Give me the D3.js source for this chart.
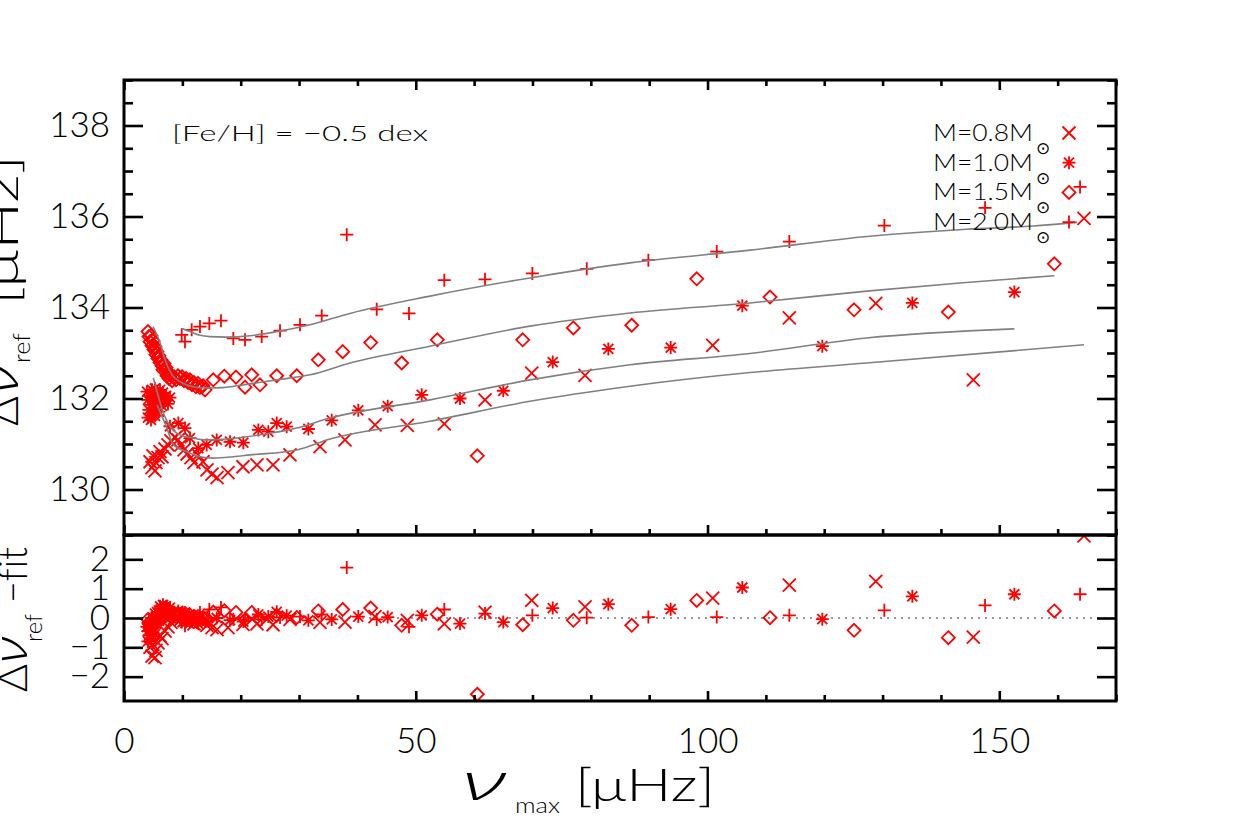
<!DOCTYPE html>
<html>
<head>
<meta charset="utf-8">
<script src="https://cdn.jsdelivr.net/npm/d3@7"></script>
<style>
  body { margin: 0; background: #fff; }
  text { font-family: Lato, "DejaVu Sans", sans-serif; font-weight: 300; fill: #000; font-variant-ligatures: none; }
  .greek { font-family: "Open Sans", "DejaVu Sans", sans-serif; font-weight: 300; font-style: italic; }
</style>
</head>
<body>
<div id="chart"></div>
<script>
"use strict";

// == DATA (nu_max [muHz], delta nu_ref [muHz]) ==
var m08Top = [[4.46,130.61],[4.80,130.48],[4.97,130.74],[5.31,130.41],[5.48,130.59],[5.83,130.70],[6.17,130.83],[6.51,130.72],
  [7.03,130.89],[7.54,130.98],[8.05,131.07],[8.74,131.14],[9.25,131.09],[9.77,130.98],[10.28,130.87],[10.80,130.78],
  [11.48,130.70],[12.00,130.59],[12.68,130.76],[13.54,130.61],[14.22,130.43],[15.08,130.34],[15.94,130.26],[17.82,130.37],
  [20.39,130.50],[22.79,130.54],[25.54,130.54],[28.45,130.76],[33.59,130.94],[37.87,131.09],[43.02,131.42],[48.55,131.41],
  [54.89,131.44],[61.87,131.97],[69.87,132.56],[79.01,132.51],[100.89,133.17],[114.02,133.77],[128.83,134.09],
  [145.55,132.41],[164.52,135.96]];

var m10Top = [[3.94,132.15],[4.11,131.97],[4.28,131.75],[4.46,132.06],[4.63,131.86],[4.80,132.19],[4.97,131.66],[5.14,131.99],
  [5.31,132.22],[5.48,131.82],[5.66,132.08],[5.83,131.93],[6.00,131.71],[6.17,132.19],[6.34,132.02],[6.51,131.84],
  [6.68,132.13],[6.86,131.95],[7.20,132.06],[7.54,131.88],[7.88,132.02],[4.11,131.58],[4.63,131.53],[5.31,131.62],
  [7.88,131.39],[9.31,131.46],[10.45,131.35],[11.31,131.13],[12.73,130.91],[14.17,130.98],[15.89,131.09],[18.17,131.05],
  [20.45,131.03],[23.02,131.31],[24.73,131.27],[26.17,131.46],[27.88,131.38],[31.59,131.33],[35.60,131.52],[40.15,131.74],
  [45.19,131.83],[51.02,132.08],[57.58,132.00],[65.00,132.17],[73.47,132.80],[83.00,133.09],[93.69,133.12],
  [105.96,134.04],[119.67,133.15],[135.10,134.10],[152.58,134.34]];

var m15Top = [[4.11,133.47],[4.28,133.36],[4.46,133.25],[4.63,133.38],[4.80,133.16],[4.97,133.27],[5.14,133.07],[5.31,133.14],
  [5.48,132.96],[5.66,133.03],[5.83,132.88],[6.00,132.94],[6.17,132.79],[6.34,132.85],[6.51,132.72],[6.68,132.63],
  [6.86,132.77],[7.03,132.59],[7.20,132.68],[7.37,132.50],[7.54,132.59],[7.71,132.44],[7.88,132.52],[8.23,132.39],
  [8.57,132.48],[8.91,132.41],[9.25,132.50],[9.60,132.44],[9.94,132.48],[10.28,132.39],[10.63,132.44],[10.97,132.35],
  [11.31,132.41],[11.65,132.30],[12.00,132.35],[12.34,132.26],[12.68,132.33],[13.02,132.24],[13.54,132.28],[13.88,132.19],
  [15.30,132.41],[17.19,132.49],[19.19,132.47],[20.74,132.25],[21.89,132.52],[23.31,132.30],[26.17,132.50],[29.60,132.50],
  [33.30,132.85],[37.48,133.03],[42.28,133.23],[47.59,132.78],[53.69,133.29],[60.55,130.74],[68.33,133.29],[77.00,133.55],
  [87.01,133.61],[98.15,134.63],[110.71,134.23],[125.11,133.95],[141.27,133.90],[159.43,134.96]];

var m20Top = [[9.89,133.40],[10.45,133.25],[11.60,133.51],[13.02,133.58],[14.62,133.65],[16.62,133.71],[18.73,133.32],
  [20.74,133.29],[23.60,133.36],[26.74,133.49],[30.16,133.62],[33.88,133.82],[38.17,135.60],[43.31,133.96],[48.84,133.87],
  [54.89,134.60],[61.87,134.62],[69.98,134.75],[79.30,134.85],[89.86,135.04],[101.58,135.23],[114.02,135.45],
  [130.30,135.80],[147.56,136.19],[163.84,136.65]];

// fitted curves (grey)
var fit08 = [[5.66,131.86],[7.32,131.36],[8.45,130.98],[10.75,130.83],[13.02,130.72],[15.30,130.69],[18.73,130.72],
  [21.59,130.76],[29.60,130.87],[35.30,131.11],[52.44,131.50],[69.58,131.94],[86.72,132.27],[107.28,132.57],
  [127.28,132.78],[164.52,133.18]];
var fit10 = [[5.02,132.45],[5.88,132.05],[6.74,131.68],[7.88,131.39],[9.60,131.20],[11.88,131.13],[14.17,131.09],
  [17.60,131.11],[21.03,131.16],[29.60,131.35],[35.30,131.57],[52.44,131.97],[69.58,132.41],[86.72,132.74],
  [107.28,132.99],[127.28,133.33],[152.58,133.53]];
var fit15 = [[4.97,133.58],[6.17,133.23],[7.03,132.85],[8.23,132.52],[9.60,132.37],[11.83,132.26],[14.22,132.23],
  [16.97,132.24],[20.39,132.30],[26.17,132.41],[31.88,132.52],[38.73,132.78],[52.44,133.15],[69.58,133.59],
  [86.72,133.88],[107.28,134.10],[127.28,134.36],[143.27,134.54],[159.43,134.70]];
var fit20 = [[9.94,133.54],[11.31,133.47],[13.02,133.39],[14.74,133.36],[17.48,133.35],[21.59,133.38],[26.22,133.47],
  [31.88,133.62],[38.73,133.87],[52.44,134.25],[69.58,134.65],[86.72,134.98],[107.28,135.26],[127.34,135.56],
  [144.42,135.72],[155.78,135.79],[163.33,135.87]];

// residuals (delta nu_ref - fit)
var m08Res = [[4.46,-1.0],[4.80,-1.3],[4.97,-0.9],[5.31,-1.35],[5.48,-1.1],[5.83,-0.85],[6.17,-0.6],[6.51,-0.7],[7.03,-0.45],
  [7.54,-0.3],[8.05,-0.15],[8.74,0.0],[9.25,0.0],[9.77,-0.05],[10.28,-0.1],[10.80,-0.12],[11.48,-0.15],[12.00,-0.2],
  [12.68,0.0],[13.54,-0.1],[14.22,-0.25],[15.08,-0.33],[15.94,-0.4],[17.82,-0.33],[20.39,-0.22],[22.79,-0.2],[25.54,-0.23],
  [28.45,-0.05],[33.59,-0.15],[37.87,-0.14],[43.02,0.05],[48.55,-0.08],[54.89,-0.2],[61.87,0.2],[69.87,0.6],[79.01,0.38],
  [100.89,0.68],[114.02,1.12],[128.83,1.25],[145.55,-0.65],[164.52,2.8]];
var m10Res = [[3.94,-0.3],[4.11,-0.45],[4.28,-0.6],[4.46,-0.2],[4.63,-0.35],[4.80,0.0],[4.97,-0.5],[5.14,-0.15],[5.31,0.15],
  [5.48,-0.2],[5.66,0.2],[5.83,0.05],[6.00,-0.1],[6.17,0.4],[6.34,0.3],[6.51,0.15],[6.68,0.45],[6.86,0.3],[7.20,0.4],
  [7.54,0.25],[7.88,0.35],[4.11,-0.8],[4.63,-0.7],[5.31,-0.55],[7.88,0.0],[9.31,0.24],[10.45,0.19],[11.31,-0.01],
  [12.73,-0.2],[14.17,-0.11],[15.89,0.0],[18.17,-0.07],[20.45,-0.12],[23.02,0.12],[24.73,0.05],[26.17,0.21],[27.88,0.08],
  [31.59,-0.08],[35.60,-0.05],[40.15,0.05],[45.19,0.03],[51.02,0.09],[57.58,-0.19],[65.00,-0.14],[73.47,0.34],
  [83.00,0.47],[93.69,0.3],[105.96,1.04],[119.67,-0.04],[135.10,0.74],[152.58,0.81]];
var m15Res = [[4.11,-0.05],[4.28,-0.2],[4.46,-0.35],[4.63,-0.1],[4.80,-0.3],[4.97,-0.15],[5.14,-0.25],[5.31,-0.1],
  [5.48,-0.2],[5.66,0.0],[5.83,-0.1],[6.00,0.05],[6.17,-0.05],[6.34,0.1],[6.51,0.0],[6.68,0.15],[6.86,0.3],[7.03,0.2],
  [7.20,0.35],[7.37,0.2],[7.54,0.3],[7.71,0.1],[7.88,0.2],[8.23,0.05],[8.57,0.12],[8.91,0.05],[9.25,0.15],[9.60,0.08],
  [9.94,0.15],[10.28,0.05],[10.63,0.12],[10.97,0.02],[11.31,0.1],[11.65,0.0],[12.00,0.06],[12.34,-0.02],[12.68,0.05],
  [13.02,-0.03],[13.54,0.02],[13.88,-0.05],[15.30,0.2],[17.19,0.25],[19.19,0.19],[20.74,-0.06],[21.89,0.19],[23.31,-0.06],
  [26.17,0.09],[29.60,0.02],[33.30,0.24],[37.48,0.29],[42.28,0.34],[47.59,-0.25],[53.69,0.13],[60.55,-2.6],[68.33,-0.23],
  [77.00,-0.08],[87.01,-0.25],[98.15,0.6],[110.71,0.01],[125.11,-0.42],[141.27,-0.67],[159.43,0.24]];
var m20Res = [[9.89,-0.14],[10.45,-0.26],[11.60,0.05],[13.02,0.19],[14.62,0.29],[16.62,0.36],[18.73,-0.04],[20.74,-0.08],
  [23.60,-0.05],[26.74,0.02],[30.16,0.05],[33.88,0.12],[38.17,1.72],[43.31,-0.05],[48.84,-0.3],[54.89,0.29],[61.87,0.15],
  [69.98,0.09],[79.30,0.01],[89.86,0.03],[101.58,0.03],[114.02,0.09],[130.30,0.26],[147.56,0.43],[163.84,0.81]];

var masses = ["0.8", "1.0", "1.5", "2.0"];
var kinds = ["x", "star", "diamond", "plus"];
var yTopTicks = [130, 132, 134, 136, 138];
var yResTicks = [-2, -1, 0, 1, 2];
var xTicks = [0, 50, 100, 150];

var series = [
  { mass: masses[0], kind: kinds[0], top: m08Top, fit: fit08, res: m08Res },
  { mass: masses[1], kind: kinds[1], top: m10Top, fit: fit10, res: m10Res },
  { mass: masses[2], kind: kinds[2], top: m15Top, fit: fit15, res: m15Res },
  { mass: masses[3], kind: kinds[3], top: m20Top, fit: fit20, res: m20Res }
];

// == BOILERPLATE ==
var W = 1240, H = 825;
var pLeft = 124, pRight = 1116, pTop = 80, pMid = 535, pBottom = 701;

var svg = d3.select("#chart").append("svg")
  .attr("width", W).attr("height", H);
svg.append("rect").attr("width", W).attr("height", H).attr("fill", "#fff");

var x = d3.scaleLinear().domain([0, 170]).range([pLeft, pRight]);
var yTop = d3.scaleLinear().domain([129, 139]).range([pMid, pTop]);
var yRes = d3.scaleLinear().domain([-2.83, 2.83]).range([pBottom, pMid]);

var defs = svg.append("defs");
defs.append("clipPath").attr("id", "clipTop").append("rect")
  .attr("x", pLeft).attr("y", pTop).attr("width", pRight - pLeft).attr("height", pMid - pTop);
defs.append("clipPath").attr("id", "clipRes").append("rect")
  .attr("x", pLeft).attr("y", pMid).attr("width", pRight - pLeft).attr("height", pBottom - pMid);

// symbol paths in the IDL psym style
function markPath(kind, cx, cy) {
  var s = 6.5, d = 5;
  var plus = "M" + (cx - s) + "," + cy + "L" + (cx + s) + "," + cy + "M" + cx + "," + (cy - s) + "L" + cx + "," + (cy + s);
  var cross = function(r) {
    return "M" + (cx - r) + "," + (cy - r) + "L" + (cx + r) + "," + (cy + r) +
           "M" + (cx - r) + "," + (cy + r) + "L" + (cx + r) + "," + (cy - r);
  };
  if (kind == "plus") return plus;
  if (kind == "x") return cross(s);
  if (kind == "diamond") return "M" + cx + "," + (cy - s) + "L" + (cx + s) + "," + cy + "L" + cx + "," + (cy + s) + "L" + (cx - s) + "," + cy + "Z";
  return plus + cross(d);
}

// == TOP PANEL ==
var gTop = svg.append("g").attr("clip-path", "url(#clipTop)");
series.forEach(function(sr) {
  gTop.selectAll(null)
    .data(sr.top)
    .enter()
    .append("path")
    .attr("d", function(d) { return markPath(sr.kind, x(d[0]), yTop(d[1])); })
    .attr("fill", "none")
    .attr("stroke", "#ff0000")
    .attr("stroke-width", 1.8);
});

var line = d3.line()
  .x(function(d) { return x(d[0]); })
  .y(function(d) { return yTop(d[1]); })
  .curve(d3.curveMonotoneX);

series.forEach(function(sr) {
  gTop.append("path")
    .attr("d", line(sr.fit))
    .attr("fill", "none")
    .attr("stroke", "#808080")
    .attr("stroke-width", 1.6);
});

// == RESIDUAL PANEL ==
var gRes = svg.append("g").attr("clip-path", "url(#clipRes)");
gRes.append("line")
  .attr("x1", pLeft).attr("x2", pRight)
  .attr("y1", yRes(0)).attr("y2", yRes(0))
  .attr("stroke", "#999")
  .attr("stroke-width", 2)
  .attr("stroke-dasharray", "2,5");

series.forEach(function(sr) {
  gRes.selectAll(null)
    .data(sr.res)
    .enter()
    .append("path")
    .attr("d", function(d) { return markPath(sr.kind, x(d[0]), yRes(d[1])); })
    .attr("fill", "none")
    .attr("stroke", "#ff0000")
    .attr("stroke-width", 1.8);
});

// == AXES ==
function styleAxis(g) {
  g.select(".domain").remove();
  g.selectAll(".tick line").attr("stroke", "#000").attr("stroke-width", 2.6);
  g.selectAll(".tick text").attr("fill", "#000").attr("font-size", 35)
    .attr("font-family", "Lato, 'DejaVu Sans', sans-serif").attr("font-weight", 300);
}
var minorY = d3.range(129, 139.01, 0.5).filter(function(v) { return v % 2 != 0; });
var minorX = d3.range(0, 171, 10).filter(function(v) { return v % 50 != 0; });

// top panel y
svg.append("g").attr("transform", "translate(" + pLeft + ",0)")
  .call(d3.axisLeft(yTop).tickValues(yTopTicks).tickSize(-19).tickPadding(14).tickFormat(d3.format("d")))
  .call(styleAxis);
svg.append("g").attr("transform", "translate(" + pLeft + ",0)")
  .call(d3.axisLeft(yTop).tickValues(minorY).tickSize(-9).tickFormat(""))
  .call(styleAxis);
svg.append("g").attr("transform", "translate(" + pRight + ",0)")
  .call(d3.axisRight(yTop).tickValues(yTopTicks).tickSize(-19).tickFormat(""))
  .call(styleAxis);
svg.append("g").attr("transform", "translate(" + pRight + ",0)")
  .call(d3.axisRight(yTop).tickValues(minorY).tickSize(-9).tickFormat(""))
  .call(styleAxis);

// residual y
svg.append("g").attr("transform", "translate(" + pLeft + ",0)")
  .call(d3.axisLeft(yRes).tickValues(yResTicks).tickSize(-19).tickPadding(14).tickFormat(d3.format("d")))
  .call(styleAxis);
svg.append("g").attr("transform", "translate(" + pRight + ",0)")
  .call(d3.axisRight(yRes).tickValues(yResTicks).tickSize(-19).tickFormat(""))
  .call(styleAxis);

// x ticks: top edge (down), middle edge (up), bottom edge (up) with labels
[[pTop, d3.axisTop], [pMid, d3.axisBottom], [pBottom, d3.axisBottom]].forEach(function(e, i) {
  var maj = e[1](x).tickValues(xTicks).tickSize(-10).tickFormat(i == 2 ? d3.format("d") : "").tickPadding(27);
  var mnr = e[1](x).tickValues(minorX).tickSize(-6).tickFormat("");
  svg.append("g").attr("transform", "translate(0," + e[0] + ")").call(maj).call(styleAxis);
  svg.append("g").attr("transform", "translate(0," + e[0] + ")").call(mnr).call(styleAxis);
});

// frames
svg.append("rect").attr("x", pLeft).attr("y", pTop).attr("width", pRight - pLeft).attr("height", pMid - pTop)
  .attr("fill", "none").attr("stroke", "#000").attr("stroke-width", 3);
svg.append("rect").attr("x", pLeft).attr("y", pMid).attr("width", pRight - pLeft).attr("height", pBottom - pMid)
  .attr("fill", "none").attr("stroke", "#000").attr("stroke-width", 3);

// == LABELS ==
// stretched text helper: wide glyphs like the IDL vector font
function wideText(sel, len) {
  return sel.attr("textLength", len).attr("lengthAdjust", "spacingAndGlyphs");
}

wideText(svg.append("text").attr("x", 172).attr("y", 141)
  .attr("font-size", 22).attr("font-weight", 400), 256)
  .text("[Fe/H] = \u22120.5 dex");

// legend
series.forEach(function(sr, i) {
  var cy = 133 + i * 29.7;
  wideText(svg.append("text").attr("x", 933).attr("y", cy + 8)
    .attr("font-size", 23).attr("font-weight", 400), 100)
    .text("M=" + sr.mass + "M");
  svg.append("text").attr("x", 1043).attr("y", cy + 21).attr("text-anchor", "middle")
    .attr("font-size", 17).attr("font-family", "'DejaVu Sans'").attr("font-weight", 400).text("\u2299");
  svg.append("path").attr("d", markPath(sr.kind, 1069, cy))
    .attr("fill", "none").attr("stroke", "#ff0000").attr("stroke-width", 1.8);
});

// x title
wideText(svg.append("text").attr("class", "greek").attr("x", 462).attr("y", 800).attr("font-size", 50), 44).text("\u03bd");
wideText(svg.append("text").attr("x", 515).attr("y", 813).attr("font-size", 21).attr("font-weight", 400), 45).text("max");
wideText(svg.append("text").attr("x", 575).attr("y", 801).attr("font-size", 46), 140).text("[\u03bcHz]");

// y title, top (cut at the left edge as in the original)
wideText(svg.append("text").attr("transform", "translate(18,426) rotate(-90)").attr("font-size", 46), 30).text("\u0394");
wideText(svg.append("text").attr("class", "greek").attr("transform", "translate(18,394) rotate(-90)")
  .attr("font-size", 50), 30).text("\u03bd");
wideText(svg.append("text").attr("transform", "translate(30,363) rotate(-90)")
  .attr("font-size", 23).attr("font-weight", 400), 30).text("ref");
wideText(svg.append("text").attr("transform", "translate(18,305) rotate(-90)").attr("font-size", 46), 150).text("[\u03bcHz]");

// y title, residuals
wideText(svg.append("text").attr("transform", "translate(27,692) rotate(-90)").attr("font-size", 42), 28).text("\u0394");
wideText(svg.append("text").attr("class", "greek").attr("transform", "translate(27,663) rotate(-90)")
  .attr("font-size", 46), 26).text("\u03bd");
wideText(svg.append("text").attr("transform", "translate(42,642) rotate(-90)")
  .attr("font-size", 23).attr("font-weight", 400), 28).text("ref");
wideText(svg.append("text").attr("transform", "translate(27,603) rotate(-90)").attr("font-size", 42), 56).text("\u2212fit");
</script>
</body>
</html>
